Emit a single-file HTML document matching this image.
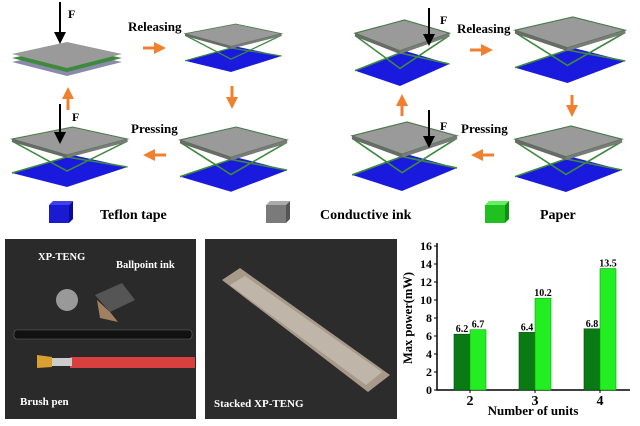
<!DOCTYPE html>
<html><head><meta charset="utf-8"><style>
body{margin:0;background:#fff;}
svg{display:block;font-family:"Liberation Serif",serif;font-weight:bold;}
</style></head><body>
<svg width="640" height="426" viewBox="0 0 640 426">
<defs>
<g id="dev">
<polygon points="0,46 55,28 105,40 50,60" fill="#1a1adf"/>
<polyline points="0,46 50,30 105,40" fill="none" stroke="#3d8a3d" stroke-width="1.5"/>
<polyline points="0,14 50,44 105,14" fill="none" stroke="#3d8a3d" stroke-width="1.5"/>
<polygon points="0,12 55,0 105,12 50,28" fill="#9a9a9a" stroke="#4a7a4a" stroke-width="1"/>
<polygon points="0,12 50,28 50,31 0,15" fill="#6a6a6a"/>
<polygon points="50,28 105,12 105,15 50,31" fill="#7a7a7a"/>
</g>
<g id="flat">
<polygon points="0,12 55,0 110,12 55,26" fill="#8a8aaa"/>
<polygon points="0,8 55,-4 110,8 55,22" fill="#3d8a3d"/>
<polygon points="0,4 55,-8 110,4 55,18" fill="#9a9a9a"/>
</g>
<marker id="oa" markerWidth="4" markerHeight="4" refX="2" refY="2" orient="auto"><path d="M0,0L4,2L0,4z" fill="#f08030"/></marker>
</defs>
<g>
<use href="#flat" transform="translate(12,50)"/>
<use href="#dev" transform="translate(185,24) scale(0.92,0.8)"/>
<use href="#dev" transform="translate(180,127) scale(1.02,1.08)"/>
<use href="#dev" transform="translate(12,127) scale(1.1,1)"/>
<text x="128" y="31" font-size="13">Releasing</text>
<text x="131" y="133" font-size="13">Pressing</text>
<text x="68" y="18" font-size="12">F</text><text x="72" y="121" font-size="12">F</text>
<line x1="60" y1="2" x2="60" y2="34" stroke="#000" stroke-width="2"/><polygon points="54,32 66,32 60,44" fill="#000"/>
<line x1="60" y1="104" x2="60" y2="134" stroke="#000" stroke-width="2"/><polygon points="54,132 66,132 60,144" fill="#000"/>
<line x1="143" y1="48" x2="160" y2="48" stroke="#f08030" stroke-width="3" marker-end="url(#oa)"/>
<line x1="232" y1="86" x2="232" y2="103" stroke="#f08030" stroke-width="3" marker-end="url(#oa)"/>
<line x1="166" y1="155" x2="149" y2="155" stroke="#f08030" stroke-width="3" marker-end="url(#oa)"/>
<line x1="68" y1="110" x2="68" y2="93" stroke="#f08030" stroke-width="3" marker-end="url(#oa)"/>
</g>
<g>
<use href="#dev" transform="translate(355,20) scale(0.9,1.1)"/>
<use href="#dev" transform="translate(515,17) scale(1.05,1.1)"/>
<use href="#dev" transform="translate(515,126) scale(1.02,1.1)"/>
<use href="#dev" transform="translate(352,122) scale(1.0,1.15)"/>
<text x="457" y="33" font-size="13">Releasing</text>
<text x="461" y="133" font-size="13">Pressing</text>
<text x="440" y="24" font-size="12">F</text><text x="440" y="130" font-size="12">F</text>
<line x1="429" y1="8" x2="429" y2="36" stroke="#000" stroke-width="2"/><polygon points="423,34 435,34 429,46" fill="#000"/>
<line x1="429" y1="110" x2="429" y2="138" stroke="#000" stroke-width="2"/><polygon points="423,136 435,136 429,148" fill="#000"/>
<line x1="470" y1="50" x2="487" y2="50" stroke="#f08030" stroke-width="3" marker-end="url(#oa)"/>
<line x1="572" y1="95" x2="572" y2="111" stroke="#f08030" stroke-width="3" marker-end="url(#oa)"/>
<line x1="494" y1="155" x2="477" y2="155" stroke="#f08030" stroke-width="3" marker-end="url(#oa)"/>
<line x1="402" y1="116" x2="402" y2="100" stroke="#f08030" stroke-width="3" marker-end="url(#oa)"/>
</g>
<g>
<rect x="49" y="205" width="20" height="18" fill="#1a1ad0"/><polygon points="49,205 53,201 73,201 69,205" fill="#4040f0"/><polygon points="69,205 73,201 73,219 69,223" fill="#0a0aa0"/>
<text x="100" y="219" font-size="14">Teflon tape</text>
<rect x="266" y="205" width="20" height="18" fill="#7a7a7a"/><polygon points="266,205 270,201 290,201 286,205" fill="#aaa"/><polygon points="286,205 290,201 290,219 286,223" fill="#555"/>
<text x="320" y="219" font-size="14">Conductive ink</text>
<rect x="485" y="205" width="20" height="18" fill="#20c020"/><polygon points="485,205 489,201 509,201 505,205" fill="#60f060"/><polygon points="505,205 509,201 509,219 505,223" fill="#109010"/>
<text x="540" y="219" font-size="14">Paper</text>
</g>
<g>
<rect x="5" y="239" width="191" height="180" fill="#2a2a2a"/>
<circle cx="67" cy="300" r="11" fill="#999"/>
<polygon points="95,295 122,283 135,300 110,312" fill="#555"/><polygon points="97,300 110,312 118,322 100,318" fill="#a08060"/>
<rect x="14" y="330" width="178" height="9" rx="3" fill="#111" stroke="#666" stroke-width="0.6"/>
<rect x="70" y="357" width="125" height="11" fill="#d84040"/><rect x="52" y="358" width="20" height="8" fill="#ccc"/><polygon points="37,355 52,357 52,367 37,368" fill="#d9a030"/>
<text x="38" y="260" font-size="10.5" fill="#fff">XP-TENG</text>
<text x="116" y="268" font-size="10.5" fill="#fff">Ballpoint ink</text>
<text x="20" y="405" font-size="11" fill="#fff">Brush pen</text>
</g>
<g>
<rect x="205" y="239" width="192" height="180" fill="#2c2c2c"/>
<polygon points="222,280 240,268 390,375 368,392" fill="#a89a88"/>
<polygon points="230,285 245,276 382,372 366,385" fill="#d0c8c0" opacity="0.6"/>
<text x="214" y="407" font-size="11" fill="#fff">Stacked XP-TENG</text>
</g>
<g id="chart"></g>
</svg>
<script>
const categories=["2","3","4"];
const seriesA=[6.2,6.4,6.8];
const seriesB=[6.7,10.2,13.5];
const yTicks=[0,2,4,6,8,10,12,14,16];
const NS="http://www.w3.org/2000/svg";
const g=document.getElementById('chart');
const x0=437,x1=630,yTop=246,yBot=390,yMax=16;
const yS=v=>yBot-(yBot-yTop)*v/yMax;
const xC=i=>470+i*65;
function mk(t,a,txt){const e=document.createElementNS(NS,t);for(const k in a)e.setAttribute(k,a[k]);if(txt!==undefined)e.textContent=txt;g.appendChild(e);return e;}
let ax=mk('path',{d:`M${x0},${yTop-3}V${yBot}H${x1}`,fill:'none',stroke:'#000','stroke-width':1.5});


yTicks.forEach(t=>{
 const y=yS(t);
 let l=mk('line',{x1:x0-3,x2:x0,y1:y,y2:y,stroke:'#000'});
 
 
 let tx=mk('text',{x:x0-5,y:y+4,'font-size':12,'text-anchor':'end'},t);
 
 
});
categories.forEach((c,i)=>{
 const cx=xC(i),w=16;
 let a=mk('rect',{x:cx-w,y:yS(seriesA[i]),width:w,height:yBot-yS(seriesA[i]),fill:'#0a7a14',stroke:'#064a0c','stroke-width':0.6});
 
 
 let b=mk('rect',{x:cx,y:yS(seriesB[i]),width:w,height:yBot-yS(seriesB[i]),fill:'#22ee22',stroke:'#10a010','stroke-width':0.6});
 
 
 let la=mk('text',{x:cx-w/2,y:yS(seriesA[i])-2,'font-size':10,'text-anchor':'middle'},seriesA[i].toFixed(1));
 
 
 let lb=mk('text',{x:cx+w/2,y:yS(seriesB[i])-2,'font-size':10,'text-anchor':'middle'},seriesB[i].toFixed(1));
 
 
 let tk=mk('line',{x1:cx,x2:cx,y1:yBot,y2:yBot+3,stroke:'#000'});
 
 
 let xl=mk('text',{x:cx,y:yBot+15,'font-size':14,'text-anchor':'middle'},c);
 
 
});
let xt=mk('text',{x:533,y:415,'font-size':13,'text-anchor':'middle'},'Number of units');


let yt=mk('text',{x:412,y:318,'font-size':12.5,'text-anchor':'middle',transform:'rotate(-90 412 318)'},'Max power(mW)');


</script>
</body></html>
